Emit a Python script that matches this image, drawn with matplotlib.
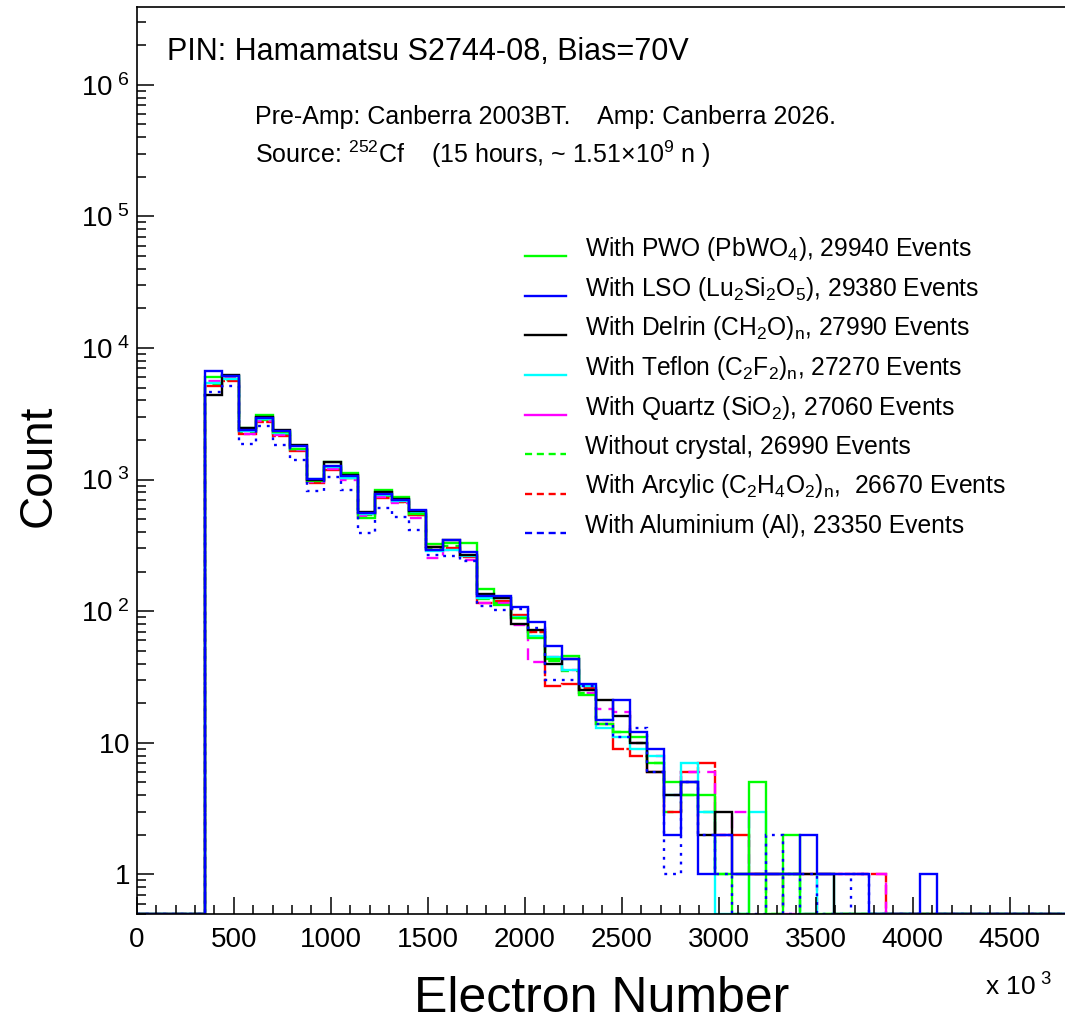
import numpy as np
import matplotlib.pyplot as plt
from matplotlib.lines import Line2D
from matplotlib.ticker import FixedLocator, FixedFormatter, MultipleLocator, LogLocator, NullFormatter

plt.rcParams['font.family'] = ['Liberation Sans', 'DejaVu Sans']
plt.rcParams['mathtext.fontset'] = 'custom'
plt.rcParams['mathtext.rm'] = 'Liberation Sans'
plt.rcParams['mathtext.it'] = 'Liberation Sans:italic'
plt.rcParams['mathtext.bf'] = 'Liberation Sans:bold'

# histogram binning (x in units of 10^3 electrons)
X_MAX = 5000
N_BINS = 57
FIRST_BIN = 4
Y_MIN, Y_MAX = 0.5, 3.9e6

# counts per bin, starting at FIRST_BIN
pwo = [5970, 6075, 2460, 3110, 2300, 1716, 982, 1355, 1122, 514, 828, 738, 550, 326, 331, 330,
       148, 112, 88, 63, 43, 46, 23, 14, 12, 11, 7, 5, 4, 4, 1, 0, 5, 0, 2, 0, 0, 0, 0, 0, 0, 0, 0]
lso = [6630, 6075, 2390, 2936, 2350, 1787, 1011, 1260, 1057, 558, 777, 704, 591, 294, 345, 280,
       130, 130, 108, 83, 54, 43, 28, 15, 21, 12, 9, 2, 5, 1, 2, 1, 1, 1, 1, 2, 1, 1, 1, 0, 0, 0, 1]
delrin = [4410, 6183, 2466, 2988, 2393, 1818, 999, 1360, 1077, 572, 800, 716, 573, 309, 345, 269,
          134, 127, 80, 72, 40, 43, 25, 21, 16, 10, 6, 4, 5, 2, 3, 1, 1, 1, 1, 1, 1, 0, 0, 0, 0, 0, 0]
teflon = [5410, 5800, 2330, 2880, 2260, 1716, 1011, 1250, 1030, 550, 766, 692, 560, 288, 294, 264,
          127, 127, 91, 65, 45, 36, 27, 13, 11, 9, 8, 4, 7, 3, 0, 0, 3, 1, 1, 0, 1, 0, 0, 0, 0, 0, 0]
quartz = [5570, 5907, 2230, 2800, 2185, 1666, 966, 1210, 986, 532, 741, 664, 511, 255, 294, 246,
          116, 116, 79, 41, 45, 36, 24, 18, 17, 10, 8, 4, 6, 6, 2, 3, 1, 1, 0, 0, 1, 1, 1, 1, 0, 0, 0]
no_crystal = [5250, 5700, 2300, 2850, 2230, 1690, 966, 1232, 1030, 540, 754, 680, 541, 298, 315, 264,
              123, 116, 89, 70, 42, 35, 24, 15, 12, 10, 7, 3, 4, 3, 1, 1, 1, 0, 1, 0, 0, 0, 0, 0, 0, 0, 0]
acrylic = [5100, 5640, 2230, 2750, 2128, 1655, 942, 1188, 1020, 550, 729, 680, 541, 309, 303, 259,
           116, 119, 94, 69, 27, 28, 26, 14, 9, 8, 6, 3, 6, 7, 2, 2, 1, 1, 1, 1, 1, 1, 1, 1, 0, 0, 0]
aluminium = [4630, 5100, 1860, 2535, 1840, 1416, 823, 1039, 838, 395, 609, 520, 417, 269, 264, 239,
             110, 102, 104, 75, 30, 30, 27, 14, 11, 13, 6, 1, 5, 2, 1, 0, 0, 2, 0, 1, 0, 0, 1, 0, 0, 0, 0]

labels = [
    r'With PWO (PbWO$_4$), 29940 Events',
    r'With LSO (Lu$_2$Si$_2$O$_5$), 29380 Events',
    r'With Delrin (CH$_2$O)$_\mathrm{n}$, 27990 Events',
    r'With Teflon (C$_2$F$_2$)$_\mathrm{n}$, 27270 Events',
    r'With Quartz (SiO$_2$), 27060 Events',
    r'Without crystal, 26990 Events',
    r'With Arcylic (C$_2$H$_4$O$_2$)$_\mathrm{n}$,  26670 Events',
    r'With Aluminium (Al), 23350 Events',
]
series = [pwo, lso, delrin, teflon, quartz, no_crystal, acrylic, aluminium]
colors = ['#00ff00', '#0000ff', '#000000', '#00ffff', '#ff00ff', '#00ff00', '#ff0000', '#0000ff']
plot_styles = ['-', '-', '-', '-', (0, (5, 3)), (0, (5, 3)), (0, (10, 1)), (0, (1.2, 2.5))]
legend_styles = ['-', '-', '-', '-', '-', (0, (3, 2)), (0, (3, 2)), (0, (3, 2))]
draw_order = [5, 6, 4, 3, 0, 2, 7, 1]

edges = np.linspace(0, X_MAX, N_BINS + 1)


def full_hist(counts):
    h = np.zeros(N_BINS)
    h[FIRST_BIN:FIRST_BIN + len(counts)] = counts
    # empty bins sit on the frame floor, as in ROOT
    return np.maximum(h, Y_MIN)


fig = plt.figure(figsize=(10.65, 10.15), dpi=100)
ax = fig.add_axes([0.1284, 0.0995, 0.9108, 0.8936])

for i in draw_order:
    ax.stairs(full_hist(series[i]), edges, baseline=None, color=colors[i],
              linestyle=plot_styles[i], linewidth=1.7)

ax.set_yscale('log')
ax.set_xlim(0, X_MAX)
ax.set_ylim(Y_MIN, Y_MAX)

ytick_vals = [1, 10, 1e2, 1e3, 1e4, 1e5, 1e6]
ytick_labels = [r'$1^{\ \enspace}$', r'$10^{\ \enspace}$', r'$10^{\ 2}$', r'$10^{\ 3}$',
                r'$10^{\ 4}$', r'$10^{\ 5}$', r'$10^{\ 6}$']
ax.yaxis.set_major_locator(FixedLocator(ytick_vals))
ax.yaxis.set_major_formatter(FixedFormatter(ytick_labels))
ax.yaxis.set_minor_locator(LogLocator(base=10, subs=np.arange(2, 10), numticks=30))
ax.yaxis.set_minor_formatter(NullFormatter())
ax.xaxis.set_major_locator(MultipleLocator(500))
ax.xaxis.set_minor_locator(MultipleLocator(100))

ax.tick_params(which='both', direction='in', width=1.1, colors='black', top=False, right=False)
ax.tick_params(which='major', length=12.5, labelsize=20)
ax.tick_params(which='minor', length=6.3)
ax.tick_params(axis='x', pad=9)
ax.tick_params(axis='y', pad=5)
for sp in ax.spines.values():
    sp.set_linewidth(1.2)

fig.text(0.036, 0.541, 'Count', rotation=90, ha='center', va='center', fontsize=33)
fig.text(0.565, 0.003, 'Electron Number', ha='center', va='baseline', fontsize=36)
fig.text(0.925, 0.019, r'x $10^{\ 3}$', ha='left', va='baseline', fontsize=19)

fig.text(0.157, 0.941, 'PIN: Hamamatsu S2744-08, Bias=70V', fontsize=22)
fig.text(0.2394, 0.878, 'Pre-Amp: Canberra 2003BT.    Amp: Canberra 2026.', fontsize=18)
fig.text(0.2394, 0.839, r'Source: $^{252}$Cf    (15 hours, ~ 1.51$\times$10$^9$ n )', fontsize=18)

# legend drawn row by row
row_y = [256, 295.7, 335.3, 375, 414.5, 454, 493.5, 533]
for i, lab in enumerate(labels):
    yf = 1 - row_y[i] / 1015
    fig.add_artist(Line2D([525 / 1065, 566 / 1065], [yf, yf], transform=fig.transFigure,
                          color=colors[i], linestyle=legend_styles[i], linewidth=1.7))
    fig.text(585 / 1065, yf, lab, ha='left', va='baseline', fontsize=17.7)

fig.savefig('out.png', dpi=100)
